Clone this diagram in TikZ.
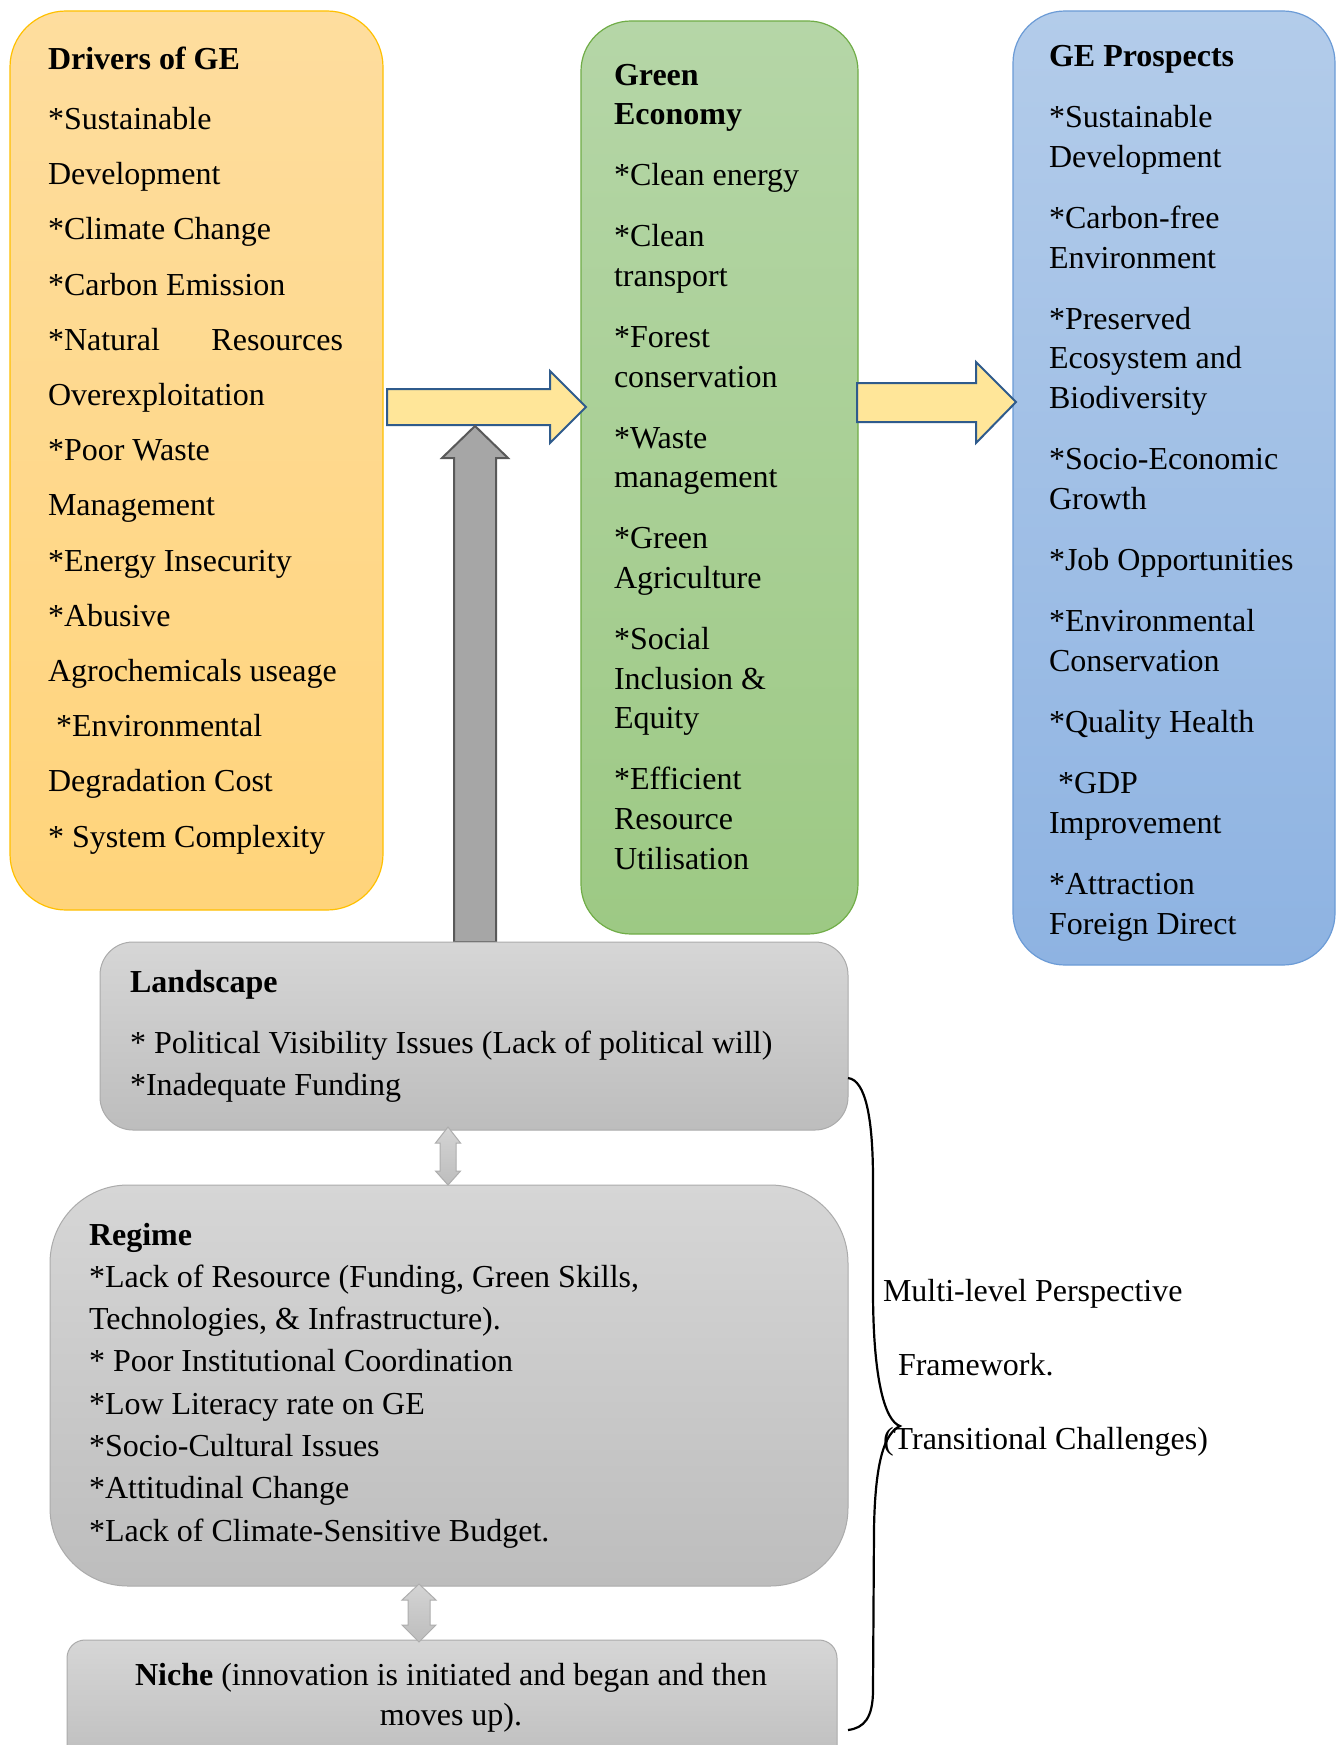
\documentclass[tikz,border=0pt]{standalone}
\usepackage{fontspec}
\setmainfont{Liberation Serif}
\definecolor{drvTop}{HTML}{FEDD9E}
\definecolor{drvBot}{HTML}{FFD47B}
\definecolor{drvLine}{HTML}{FFC000}
\definecolor{grnTop}{HTML}{B5D6A7}
\definecolor{grnBot}{HTML}{9DC984}
\definecolor{grnLine}{HTML}{70AD47}
\definecolor{bluTop}{HTML}{B3CCEA}
\definecolor{bluBot}{HTML}{8EB3E2}
\definecolor{bluLine}{HTML}{6B9BD6}
\definecolor{gryTop}{HTML}{D6D6D6}
\definecolor{gryBot}{HTML}{BDBDBD}
\definecolor{gryLine}{HTML}{ABABAB}
\definecolor{yelFill}{HTML}{FFE699}
\definecolor{yelLine}{HTML}{2F5B8C}
\definecolor{upFill}{HTML}{A6A6A6}
\definecolor{upLine}{HTML}{595959}
\definecolor{dblTop}{HTML}{D4D4D4}
\definecolor{dblBot}{HTML}{BDBDBD}
\definecolor{dblLine}{HTML}{ADADAD}
\begin{document}
\begin{tikzpicture}[x=1pt,y=-1pt,
  panel/.style={draw, line width=1.2pt, inner sep=0pt, outer sep=0pt},
  txt/.style={inner sep=0pt, outer sep=0pt, anchor=north west, align=left},
  yelarrow/.style={fill=yelFill, draw=yelLine, line width=2pt, line join=miter},
  uparrow/.style={fill=upFill, draw=upLine, line width=2pt, line join=miter},
  dblarrow/.style={top color=dblTop, bottom color=dblBot, draw=dblLine, line width=1pt, line join=miter},
  bracestyle/.style={draw=black, line width=2.2pt}
]
\useasboundingbox (0,0) rectangle (1343,1745);
\fill[white] (0,0) rectangle (1343,1745);

% ---------- top panels ----------
\node[panel, draw=drvLine, top color=drvTop, bottom color=drvBot, rounded corners=56pt,
      minimum width=373pt, minimum height=899pt] (drivers) at (196.5,460.5) {};
\node[panel, draw=grnLine, top color=grnTop, bottom color=grnBot, rounded corners=50pt,
      minimum width=277pt, minimum height=913pt] (green) at (719.5,477.5) {};
\node[panel, draw=bluLine, top color=bluTop, bottom color=bluBot, rounded corners=52pt,
      minimum width=322pt, minimum height=954pt] (prospects) at (1174,488) {};

% ---------- panel texts ----------
\node[txt, font=\fontsize{32}{55.2}\selectfont] (drvText) at (48,45.5) {%
\rule{0pt}{24pt}\textbf{Drivers of GE}\\[4.8pt]
*Sustainable\\
Development\\
*Climate Change\\
*Carbon Emission\\
\makebox[295pt][l]{*Natural\hfill Resources}\\
Overexploitation\\
*Poor Waste\\
Management\\
*Energy Insecurity\\
*Abusive\\
Agrochemicals useage\\
\hspace*{8pt}*Environmental\\
Degradation Cost\\
* System Complexity};

\node[txt, font=\fontsize{32}{39.6}\selectfont] (grnText) at (614,61) {%
\rule{0pt}{24pt}\textbf{Green}\\
\textbf{Economy}\\[21.5pt]
*Clean energy\\[21.5pt]
*Clean\\
transport\\[21.5pt]
*Forest\\
conservation\\[21.5pt]
*Waste\\
management\\[21.5pt]
*Green\\
Agriculture\\[21.5pt]
*Social\\
Inclusion \&\\
Equity\\[21.5pt]
*Efficient\\
Resource\\
Utilisation};

\node[txt, font=\fontsize{32}{39.6}\selectfont] (proText) at (1049,42.5) {%
\rule{0pt}{24pt}\textbf{GE Prospects}\\[21.6pt]
*Sustainable\\
Development\\[21.6pt]
*Carbon-free\\
Environment\\[21.6pt]
*Preserved\\
Ecosystem and\\
Biodiversity\\[21.6pt]
*Socio-Economic\\
Growth\\[21.6pt]
*Job Opportunities\\[21.6pt]
*Environmental\\
Conservation\\[21.6pt]
*Quality Health\\[21.6pt]
\hspace*{9pt}*GDP\\
Improvement\\[21.6pt]
*Attraction\\
Foreign Direct};

% ---------- yellow block arrows ----------
\draw[yelarrow] (387,389) -- (550,389) -- (550,371) -- (586,407) -- (550,443) -- (550,425) -- (387,425) -- cycle;
\draw[yelarrow] (857,383) -- (976,383) -- (976,362) -- (1016,402) -- (976,443) -- (976,422) -- (857,422) -- cycle;

% ---------- grey up arrow ----------
\draw[uparrow] (454,942) -- (454,458) -- (442,458) -- (475,426) -- (508,458) -- (496,458) -- (496,942) -- cycle;

% ---------- bottom panels ----------
\node[panel, draw=gryLine, top color=gryTop, bottom color=gryBot, rounded corners=33pt, line width=1pt,
      minimum width=748pt, minimum height=188pt] (landscape) at (474,1036) {};
\node[panel, draw=gryLine, top color=gryTop, bottom color=gryBot, rounded corners=78pt, line width=1pt,
      minimum width=798pt, minimum height=401pt] (regime) at (449,1385.5) {};
\node[panel, draw=gryLine, top color=gryTop, bottom color=gryBot, rounded corners=18pt, line width=1pt,
      minimum width=770pt, minimum height=130pt] (niche) at (452,1705) {};

\node[txt, font=\fontsize{32}{42.5}\selectfont] (landText) at (130,968) {%
\rule{0pt}{24pt}\textbf{Landscape}\\[18.5pt]
* Political Visibility Issues (Lack of political will)\\
*Inadequate Funding};

\node[txt, font=\fontsize{32}{42.3}\selectfont] (regText) at (89,1221) {%
\rule{0pt}{24pt}\textbf{Regime}\\
*Lack of Resource (Funding, Green Skills,\\
Technologies, \& Infrastructure).\\
* Poor Institutional Coordination\\
*Low Literacy rate on GE\\
*Socio-Cultural Issues\\
*Attitudinal Change\\
*Lack of Climate-Sensitive Budget.};

\node[inner sep=0pt, outer sep=0pt, anchor=north, align=center, font=\fontsize{32}{40}\selectfont] (nicheText) at (451,1661) {%
\rule{0pt}{24pt}\textbf{Niche} (innovation is initiated and began and then\\
moves up).};

% ---------- double arrows ----------
\draw[dblarrow] (448,1127) -- (460.5,1143) -- (456,1143) -- (456,1171) -- (460.5,1171) -- (448,1185)
  -- (435.5,1171) -- (440,1171) -- (440,1143) -- (435.5,1143) -- cycle;
\draw[dblarrow] (419,1584) -- (436,1600) -- (430,1600) -- (430,1625) -- (436,1625) -- (419,1642)
  -- (402,1625) -- (408,1625) -- (408,1600) -- (402,1600) -- cycle;

% ---------- brace ----------
\coordinate (braceTop) at (848,1078);
\coordinate (braceTip) at (900,1426);
\coordinate (braceBot) at (848,1730);
\draw[bracestyle] (braceTop) .. controls (866,1080) and (873,1120) .. (873,1180) -- (873,1290)
  .. controls (873,1380) and (885,1421) .. (braceTip)
  .. controls (885,1433) and (875,1460) .. (874,1530) -- (873,1690)
  .. controls (873,1718) and (864,1728) .. (braceBot);

\node[txt, font=\fontsize{32}{74}\selectfont] (mlpText) at (883,1277) {%
\rule{0pt}{24pt}Multi-level Perspective\\
\hspace*{15pt}Framework.\\
(Transitional Challenges)};

\end{tikzpicture}
\end{document}
